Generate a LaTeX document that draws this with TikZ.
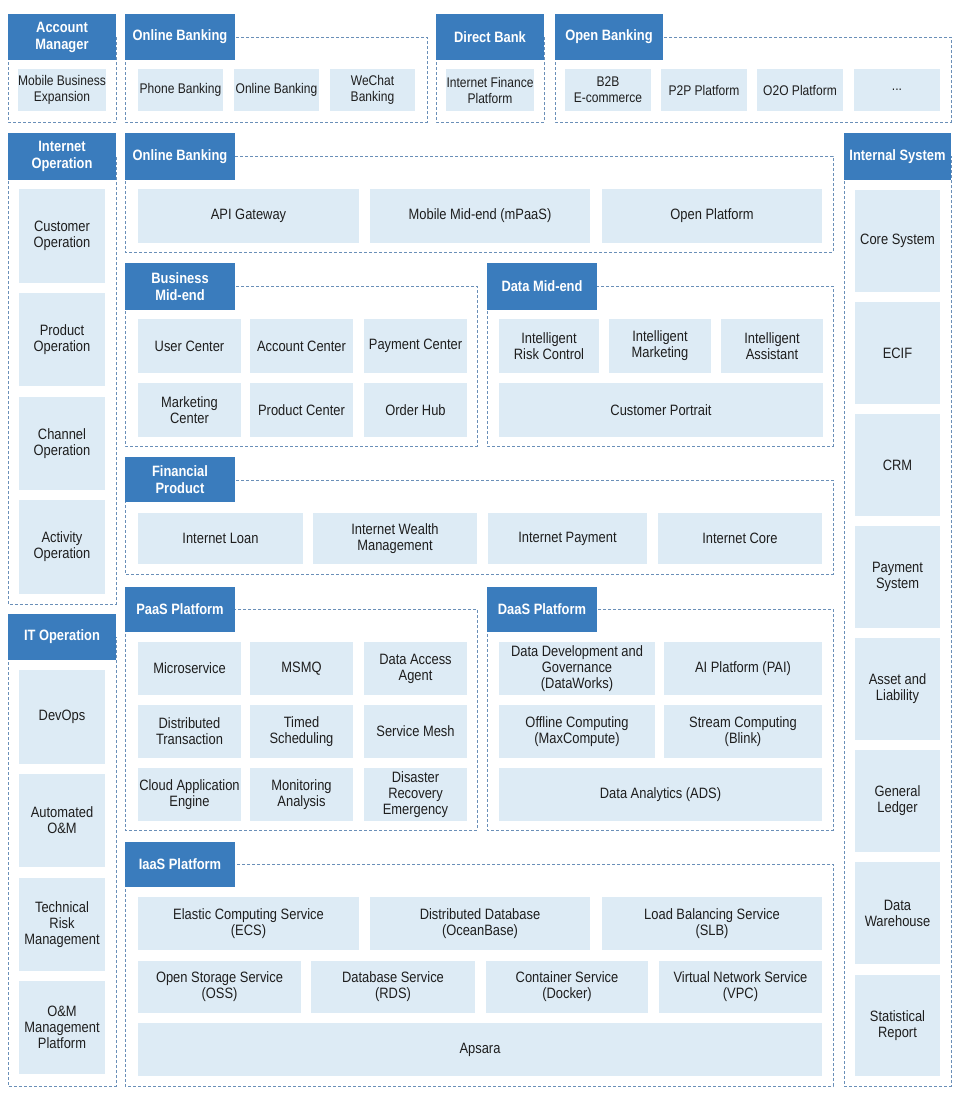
\documentclass[tikz,border=0pt]{standalone}
\usepackage{fontspec}
\setmainfont[FakeStretch=0.86]{Liberation Sans}
\usepackage{xcolor}
\definecolor{hdblue}{HTML}{3A7CBD}
\definecolor{cellblue}{HTML}{DDEBF5}
\definecolor{frameblue}{HTML}{6A8FB8}
\definecolor{inkgray}{HTML}{1E1E1E}

\begin{document}
\begin{tikzpicture}[
    x=1pt, y=-1pt,
    every node/.style={font=\fontsize{15}{16}\selectfont, text=inkgray},
    span/.style n args={4}{minimum width={#3-#1}, minimum height={#4-#2},
                           at={({(#1+#3)/2},{(#2+#4)/2})}},
    head/.style={fill=hdblue, inner sep=0pt, align=center, text=white,
                 font=\fontsize{15}{17}\selectfont\bfseries},
    cell/.style={fill=cellblue, inner sep=0pt, align=center},
    tight/.style={font=\fontsize{14}{16}\selectfont},
    grp/.style={draw=frameblue, dash pattern=on 3pt off 2pt, line width=1pt},
]
\useasboundingbox[fill=white] (0,0) rectangle (960,1104);

% --- Dashed group frames (top edge at the header's middle) ---
\draw[grp] (8,37)    rectangle (116,122);   % account manager
\draw[grp] (125,37)  rectangle (427,122);   % online banking (channels)
\draw[grp] (436,37)  rectangle (544,122);   % direct bank
\draw[grp] (555,37)  rectangle (951,122);   % open banking
\draw[grp] (8,156)   rectangle (116,604);   % internet operation
\draw[grp] (125,156) rectangle (833,252);   % online banking (access)
\draw[grp] (844,156) rectangle (951,1086);  % internal system
\draw[grp] (125,286) rectangle (477,446);   % business mid-end
\draw[grp] (487,286) rectangle (833,446);   % data mid-end
\draw[grp] (125,480) rectangle (833,574);   % financial product
\draw[grp] (8,637)   rectangle (116,1086);  % IT operation
\draw[grp] (125,609) rectangle (477,830);   % PaaS
\draw[grp] (487,609) rectangle (833,830);   % DaaS
\draw[grp] (125,864) rectangle (833,1086);  % IaaS

% --- Group headers ---
\node[head, span={8}{14}{116}{60}]    (hAcct)    {Account\\Manager};
\node[head, span={125}{14}{235}{60}]  (hOnline)  {Online Banking};
\node[head, span={436}{14}{544}{60}]  (hDirect)  {Direct Bank};
\node[head, span={555}{14}{663}{60}]  (hOpen)    {Open Banking};
\node[head, span={8}{133}{116}{180}]  (hIntOp)   {Internet\\Operation};
\node[head, span={125}{133}{235}{180}] (hAccess) {Online Banking};
\node[head, span={844}{133}{951}{180}] (hIntSys) {Internal System};
\node[head, span={125}{263}{235}{310}] (hBizMid) {Business\\Mid-end};
\node[head, span={487}{263}{597}{310}] (hDataMid) {Data Mid-end};
\node[head, span={125}{457}{235}{502}] (hFinProd) {Financial\\Product};
\node[head, span={8}{614}{116}{660}]  (hITOp)    {IT Operation};
\node[head, span={125}{587}{235}{632}] (hPaaS)   {PaaS Platform};
\node[head, span={487}{587}{597}{632}] (hDaaS)   {DaaS Platform};
\node[head, span={125}{842}{235}{887}] (hIaaS)   {IaaS Platform};

% --- Channel row ---
\node[cell, tight, span={18}{69}{106}{111}]  (mobBiz)     {Mobile Business\\Expansion};
\node[cell, tight, span={138}{69}{223}{111}] (phoneBank)  {Phone Banking};
\node[cell, tight, span={234}{69}{319}{111}] (webBank)    {Online Banking};
\node[cell, tight, span={330}{69}{415}{111}] (wechatBank) {WeChat\\Banking};
\node[cell, tight, span={447}{69}{533}{111}] (finPlat)    {Internet Finance\\Platform};
\node[cell, tight, span={565}{69}{651}{111}] (b2b)        {B2B\\E-commerce};
\node[cell, tight, span={661}{69}{747}{111}] (p2p)        {P2P Platform};
\node[cell, tight, span={757}{69}{843}{111}] (o2o)        {O2O Platform};
\node[cell, tight, span={854}{69}{940}{111}] (moreOpen)   {...};

% --- Internet operation (left column) ---
\node[cell, span={19}{189}{105}{283}]  (custOp) {Customer\\Operation};
\node[cell, span={19}{293}{105}{386}]  (prodOp) {Product\\Operation};
\node[cell, span={19}{397}{105}{490}]  (chanOp) {Channel\\Operation};
\node[cell, span={19}{500}{105}{594}]  (actOp)  {Activity\\Operation};

% --- IT operation (left column) ---
\node[cell, span={19}{670}{105}{764}]  (devops)   {DevOps};
\node[cell, span={19}{774}{105}{867}]  (autoOM)   {Automated\\O\&M};
\node[cell, span={19}{878}{105}{971}]  (techRisk) {Technical\\Risk\\Management};
\node[cell, span={19}{981}{105}{1074}] (omPlat)   {O\&M\\Management\\Platform};

% --- Internal system (right column) ---
\node[cell, span={855}{190}{940}{292}]  (coreSys) {Core System};
\node[cell, span={855}{302}{940}{404}]  (ecif)    {ECIF};
\node[cell, span={855}{414}{940}{516}]  (crm)     {CRM};
\node[cell, span={855}{526}{940}{628}]  (paySys)  {Payment\\System};
\node[cell, span={855}{638}{940}{740}]  (asset)   {Asset and\\Liability};
\node[cell, span={855}{750}{940}{852}]  (ledger)  {General\\Ledger};
\node[cell, span={855}{862}{940}{964}]  (dwh)     {Data\\Warehouse};
\node[cell, span={855}{975}{940}{1076}] (statRep) {Statistical\\Report};

% --- Online banking access layer ---
\node[cell, span={138}{189}{359}{243}] (apiGw)    {API Gateway};
\node[cell, span={370}{189}{590}{243}] (mpaas)    {Mobile Mid-end (mPaaS)};
\node[cell, span={602}{189}{822}{243}] (openPlat) {Open Platform};

% --- Business mid-end ---
\node[cell, span={138}{319}{241}{373}] (userC)    {User Center};
\node[cell, span={250}{319}{353}{373}] (acctC)    {Account Center};
\node[cell, span={364}{319}{467}{373}] (payC)     {Payment Center};
\node[cell, span={138}{383}{241}{437}] (mktC)     {Marketing\\Center};
\node[cell, span={250}{383}{353}{437}] (prodC)    {Product Center};
\node[cell, span={364}{383}{467}{437}] (orderHub) {Order Hub};

% --- Data mid-end ---
\node[cell, span={499}{319}{599}{373}] (riskCtl)  {Intelligent\\Risk Control};
\node[cell, span={609}{319}{711}{373}] (intMkt)   {Intelligent\\Marketing};
\node[cell, span={721}{319}{823}{373}] (intAsst)  {Intelligent\\Assistant};
\node[cell, span={499}{383}{823}{437}] (portrait) {Customer Portrait};

% --- Financial product ---
\node[cell, span={138}{513}{303}{564}] (loan)   {Internet Loan};
\node[cell, span={313}{513}{477}{564}] (wealth) {Internet Wealth\\Management};
\node[cell, span={488}{513}{647}{564}] (iPay)   {Internet Payment};
\node[cell, span={658}{513}{822}{564}] (iCore)  {Internet Core};

% --- PaaS platform ---
\node[cell, span={138}{642}{241}{695}] (micro)   {Microservice};
\node[cell, span={250}{642}{353}{695}] (msmq)    {MSMQ};
\node[cell, span={364}{642}{467}{695}] (dbAgent) {Data Access\\Agent};
\node[cell, span={138}{705}{241}{758}] (distTx)  {Distributed\\Transaction};
\node[cell, span={250}{705}{353}{758}] (timed)   {Timed\\Scheduling};
\node[cell, span={364}{705}{467}{758}] (mesh)    {Service Mesh};
\node[cell, span={138}{768}{241}{821}] (cae)     {Cloud Application\\Engine};
\node[cell, span={250}{768}{353}{821}] (monitor) {Monitoring\\Analysis};
\node[cell, span={364}{768}{467}{821}] (drEmerg) {Disaster\\Recovery\\Emergency};

% --- DaaS platform ---
\node[cell, span={499}{642}{655}{695}] (dataWorks) {Data Development and\\Governance\\(DataWorks)};
\node[cell, span={664}{642}{822}{695}] (pai)       {AI Platform (PAI)};
\node[cell, span={499}{705}{655}{758}] (maxComp)   {Offline Computing\\(MaxCompute)};
\node[cell, span={664}{705}{822}{758}] (blink)     {Stream Computing\\(Blink)};
\node[cell, span={499}{768}{822}{821}] (ads)       {Data Analytics (ADS)};

% --- IaaS platform ---
\node[cell, span={138}{897}{359}{950}]  (ecs)     {Elastic Computing Service\\(ECS)};
\node[cell, span={370}{897}{590}{950}]  (oceanDb) {Distributed Database\\(OceanBase)};
\node[cell, span={602}{897}{822}{950}]  (slb)     {Load Balancing Service\\(SLB)};
\node[cell, span={138}{961}{301}{1013}] (oss)     {Open Storage Service\\(OSS)};
\node[cell, span={311}{961}{475}{1013}] (rds)     {Database Service\\(RDS)};
\node[cell, span={486}{961}{648}{1013}] (docker)  {Container Service\\(Docker)};
\node[cell, span={659}{961}{822}{1013}] (vpc)     {Virtual Network Service\\(VPC)};
\node[cell, span={138}{1023}{822}{1076}] (apsara) {Apsara};
\end{tikzpicture}
\end{document}
